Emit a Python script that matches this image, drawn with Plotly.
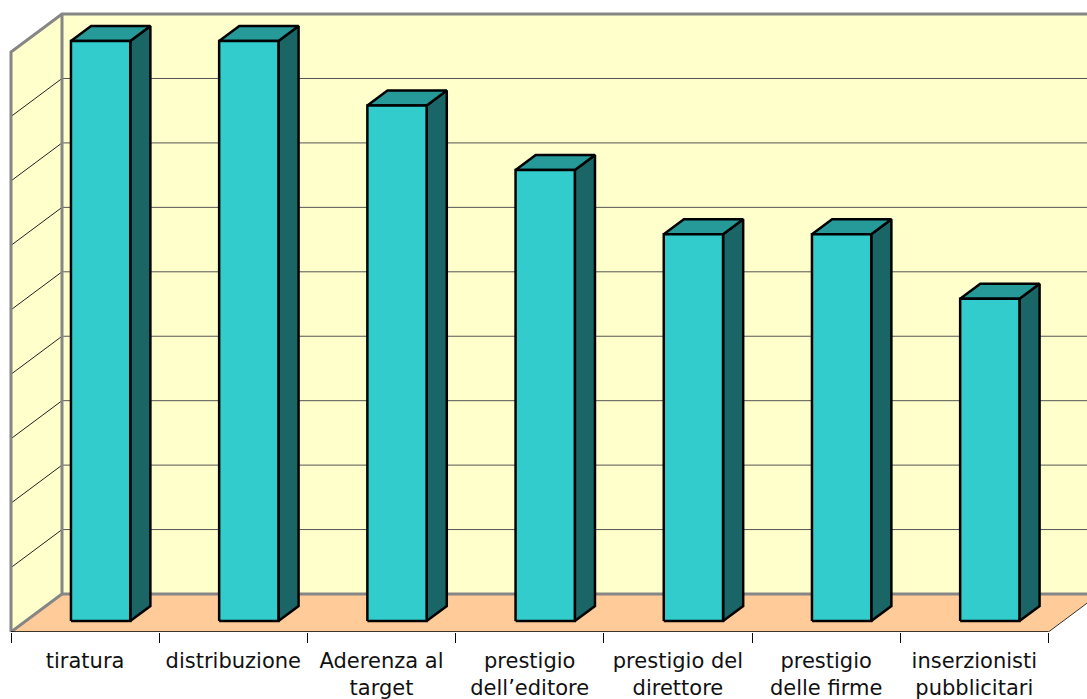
import plotly.graph_objects as go

categories = ["tiratura", "distribuzione", "Aderenza al<br>target", "prestigio<br>dell’editore",
              "prestigio del<br>direttore", "prestigio<br>delle firme", "inserzionisti<br>pubblicitari"]
values = [9, 9, 8, 7, 6, 6, 5]
grid_levels = [0, 1, 2, 3, 4, 5, 6, 7, 8, 9]

W, H = 1087, 699
PX_X, PX_Y = 148.2, 64.44
X0, Y0 = 11, 632
DEPTH_X, DEPTH_Y = 51 / PX_X, 38 / PX_Y      # full floor depth
FRONT = 11 / 38                              # bar front position in the depth
BACK = 26 / 38                               # bar back position in the depth
BAR_W = 0.40
BAR_NUDGE = 0.005
N = len(values)

WALL, FLOOR = "#FFFFCC", "#FFCC99"
FACE, TOP, SIDE = "#33CCCC", "#269999", "#1A6666"
GREY = "#868686"

fig = go.Figure()


def poly(xs, ys, fill, line="rgba(0,0,0,0)", width=0):
    fig.add_trace(go.Scatter(x=xs, y=ys, mode="lines", fill="toself", fillcolor=fill,
                             line=dict(color=line, width=width, simplify=False),
                             hoverinfo="skip", showlegend=False))


def line(xs, ys, color, width):
    fig.add_trace(go.Scatter(x=xs, y=ys, mode="lines", line=dict(color=color, width=width, simplify=False),
                             hoverinfo="skip", showlegend=False, cliponaxis=False))


top = grid_levels[-1]
# walls and floor
poly([DEPTH_X, N + DEPTH_X, N + DEPTH_X, DEPTH_X, DEPTH_X],
     [DEPTH_Y, DEPTH_Y, top + DEPTH_Y, top + DEPTH_Y, DEPTH_Y], WALL)
poly([0, DEPTH_X, DEPTH_X, 0, 0], [0, DEPTH_Y, top + DEPTH_Y, top, 0], WALL)
poly([0, N, N + DEPTH_X, DEPTH_X, 0], [0, 0, DEPTH_Y, DEPTH_Y, 0], FLOOR)

# grid lines
for lv in grid_levels[1:-1]:
    line([DEPTH_X, N + DEPTH_X], [lv + DEPTH_Y, lv + DEPTH_Y], "#555555", 1)
    line([0, DEPTH_X], [lv, lv + DEPTH_Y], "#222222", 1)

# wall borders
line([0, 0, DEPTH_X, N + DEPTH_X], [0, top, top + DEPTH_Y, top + DEPTH_Y], GREY, 3)
line([0, DEPTH_X, DEPTH_X], [0, DEPTH_Y, top + DEPTH_Y], GREY, 3)
line([DEPTH_X, N + DEPTH_X], [DEPTH_Y, DEPTH_Y], GREY, 3)
line([N, N + DEPTH_X], [0, DEPTH_Y], "#333333", 1)
line([0, N], [0, 0], "black", 1.5)

# bars
for i, v in enumerate(values):
    cx = i + 0.5
    xl = cx - BAR_W / 2 + FRONT * DEPTH_X + BAR_NUDGE
    xr = xl + BAR_W
    yb = FRONT * DEPTH_Y
    yt = yb + v
    dx = (BACK - FRONT) * DEPTH_X
    dy = (BACK - FRONT) * DEPTH_Y
    poly([xr, xr + dx, xr + dx, xr, xr], [yb, yb + dy, yt + dy, yt, yb], SIDE, "black", 2.5)
    poly([xl, xr, xr + dx, xl + dx, xl], [yt, yt, yt + dy, yt + dy, yt], TOP, "black", 2.5)
    poly([xl, xr, xr, xl, xl], [yb, yb, yt, yt, yb], FACE, "black", 2.5)

fig.update_layout(
    width=W, height=H,
    margin=dict(l=0, r=0, t=0, b=H - Y0, pad=0),
    paper_bgcolor="white", plot_bgcolor="white",
    showlegend=False,
    font=dict(family="DejaVu Sans, Verdana, sans-serif", size=21, color="#111111"),
    xaxis=dict(
        range=[-X0 / PX_X, (W - X0) / PX_X],
        automargin=False,
        tickmode="array",
        tickvals=[i + 0.5 for i in range(N)],
        ticktext=categories,
        ticks="", tickangle=0,
        ticklabelstandoff=14,
        showgrid=False, zeroline=False, showline=False,
        minor=dict(tickmode="array", tickvals=list(range(N + 1)), ticks="outside",
                   ticklen=10, tickwidth=1, tickcolor="black", showgrid=False),
    ),
    yaxis=dict(range=[0, Y0 / PX_Y], visible=False, showgrid=False, zeroline=False, automargin=False),
)
fig.write_html("out.html", config={"displayModeBar": False}, default_width=W, default_height=H,
               post_script="document.body.style.margin='0';document.body.style.overflow='hidden';")
